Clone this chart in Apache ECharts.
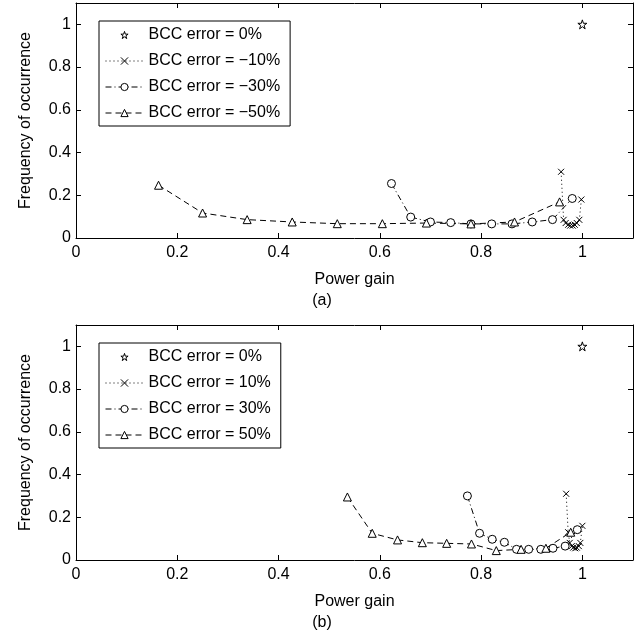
<!DOCTYPE html>
<html><head><meta charset="utf-8">
<script src="https://cdn.jsdelivr.net/npm/echarts@6/dist/echarts.min.js"></script>
<style>html,body{margin:0;padding:0;background:#fff}#c{width:644px;height:635px}</style>
</head><body><div id="c"></div>
<script>
// ---- data ----
const legendA = ['BCC error = 0%', 'BCC error = \u221210%', 'BCC error = \u221230%', 'BCC error = \u221250%'];
const legendB = ['BCC error = 0%', 'BCC error = 10%', 'BCC error = 30%', 'BCC error = 50%'];

const e0_a_x = [1.0];
const e0_a_y = [1.0];
const e10_a_x = [0.958, 0.963, 0.967, 0.972, 0.976, 0.981, 0.985, 0.989, 0.994, 0.998];
const e10_a_y = [0.31, 0.085, 0.07, 0.062, 0.058, 0.058, 0.062, 0.07, 0.085, 0.18];
const e30_a_x = [0.623, 0.661, 0.700, 0.740, 0.780, 0.821, 0.861, 0.901, 0.941, 0.980];
const e30_a_y = [0.255, 0.098, 0.075, 0.072, 0.066, 0.066, 0.066, 0.075, 0.086, 0.185];
const e50_a_x = [0.163, 0.250, 0.338, 0.427, 0.516, 0.605, 0.692, 0.780, 0.866, 0.955];
const e50_a_y = [0.247, 0.117, 0.086, 0.075, 0.067, 0.067, 0.070, 0.066, 0.075, 0.169];

const e0_b_x = [1.0];
const e0_b_y = [1.0];
const e10_b_x = [0.968, 0.972, 0.975, 0.979, 0.982, 0.986, 0.989, 0.993, 0.996, 1.0];
const e10_b_y = [0.31, 0.13, 0.08, 0.065, 0.058, 0.055, 0.058, 0.065, 0.08, 0.16];
const e30_b_x = [0.773, 0.797, 0.822, 0.846, 0.870, 0.894, 0.918, 0.942, 0.966, 0.990];
const e30_b_y = [0.30, 0.125, 0.097, 0.083, 0.05, 0.05, 0.05, 0.055, 0.065, 0.142];
const e50_b_x = [0.536, 0.585, 0.635, 0.684, 0.732, 0.781, 0.830, 0.879, 0.928, 0.977];
const e50_b_y = [0.295, 0.125, 0.094, 0.081, 0.078, 0.075, 0.044, 0.05, 0.055, 0.13];

const xName = 'Power gain';
const yName = 'Frequency of occurrence';
const panelLabels = ['(a)', '(b)'];

// ---- chart ----
const FONT = '"Liberation Sans", Arial, Helvetica, sans-serif';
const zip = (xs, ys) => xs.map((x, i) => [x, ys[i]]);
const STAR = 'path://M50,0L61.17,34.63L97.55,34.55L68.07,55.87L79.39,90.45L50,69L20.61,90.45L31.93,55.87L2.45,34.55L38.83,34.63Z';
const CROSS = 'path://M0,0L10,10M10,0L0,10';
const HOLLOW = {color: '#fff', borderColor: '#000', borderWidth: 1};

const grids = [
  {left: 76, top: 3, width: 557, height: 235},
  {left: 76, top: 325, width: 557, height: 235}
];

const xAxes = [], yAxes = [];
grids.forEach((g, gi) => {
  xAxes.push({
    type: 'value', gridIndex: gi, min: 0, max: 1.1, interval: 0.2, position: 'bottom',
    name: xName, nameLocation: 'middle', nameGap: 34,
    nameTextStyle: {fontFamily: FONT, fontSize: 16, color: '#000'},
    axisLine: {show: true, onZero: false, lineStyle: {color: '#000', width: 1}},
    axisTick: {show: true, inside: true, length: 5, lineStyle: {color: '#000'}},
    axisLabel: {fontFamily: FONT, fontSize: 16, color: '#000', margin: 7, showMaxLabel: false},
    splitLine: {show: false}
  });
  xAxes.push({
    type: 'value', gridIndex: gi, min: 0, max: 1.1, interval: 0.2, position: 'top',
    axisLine: {show: true, onZero: false, lineStyle: {color: '#000', width: 1}},
    axisTick: {show: true, inside: true, length: 5, lineStyle: {color: '#000'}},
    axisLabel: {show: false}, splitLine: {show: false}
  });
  yAxes.push({
    type: 'value', gridIndex: gi, min: 0, max: 1.1, interval: 0.2, position: 'left',
    name: yName, nameLocation: 'middle', nameGap: 42,
    nameTextStyle: {fontFamily: FONT, fontSize: 16, color: '#000'},
    axisLine: {show: true, onZero: false, lineStyle: {color: '#000', width: 1}},
    axisTick: {show: true, inside: true, length: 5, lineStyle: {color: '#000'}},
    axisLabel: {fontFamily: FONT, fontSize: 16, color: '#000', margin: 5, showMaxLabel: false},
    splitLine: {show: false}
  });
  yAxes.push({
    type: 'value', gridIndex: gi, min: 0, max: 1.1, interval: 0.2, position: 'right',
    axisLine: {show: true, onZero: false, lineStyle: {color: '#000', width: 1}},
    axisTick: {show: true, inside: true, length: 5, lineStyle: {color: '#000'}},
    axisLabel: {show: false}, splitLine: {show: false}
  });
});

function mkSeries(gi, names, sets) {
  const xi = gi * 2, yi = gi * 2;
  return [
    {name: names[0], type: 'line', xAxisIndex: xi, yAxisIndex: yi, data: zip(sets[0][0], sets[0][1]),
      symbol: STAR, symbolSize: 9, lineStyle: {width: 0, opacity: 0, color: '#000'},
      itemStyle: HOLLOW},
    {name: names[1], type: 'line', xAxisIndex: xi, yAxisIndex: yi, data: zip(sets[1][0], sets[1][1]),
      symbol: CROSS, symbolSize: 6, lineStyle: {width: 1, type: [1, 3], color: '#000'},
      itemStyle: {color: '#000', borderColor: '#000', borderWidth: 1}},
    {name: names[2], type: 'line', xAxisIndex: xi, yAxisIndex: yi, data: zip(sets[2][0], sets[2][1]),
      symbol: 'circle', symbolSize: 8, lineStyle: {width: 1, type: [6, 3, 1, 3], color: '#000'},
      itemStyle: HOLLOW},
    {name: names[3], type: 'line', xAxisIndex: xi, yAxisIndex: yi, data: zip(sets[3][0], sets[3][1]),
      symbol: 'triangle', symbolSize: 8, lineStyle: {width: 1, type: [6, 4], color: '#000'},
      itemStyle: HOLLOW}
  ].map(s => Object.assign(s, {showAllSymbol: true, animation: false, z: 3}));
}

const series = [].concat(
  mkSeries(0, legendA, [[e0_a_x, e0_a_y], [e10_a_x, e10_a_y], [e30_a_x, e30_a_y], [e50_a_x, e50_a_y]]),
  mkSeries(1, legendB, [[e0_b_x, e0_b_y], [e10_b_x, e10_b_y], [e30_b_x, e30_b_y], [e50_b_x, e50_b_y]])
);

function mkLegend(names, top) {
  return {
    data: names.map((n, i) => ({
      name: n,
      itemStyle: i === 1 ? {color: '#000', borderColor: '#000', borderWidth: 1} : HOLLOW
    })),
    orient: 'vertical', left: 99, top: top,
    backgroundColor: '#fff', borderColor: '#000', borderWidth: 1,
    padding: [6, 10, 5, 6], itemGap: 10, itemWidth: 38, itemHeight: 9,
    itemStyle: {borderWidth: 1},
    lineStyle: {width: 1},
    textStyle: {fontFamily: FONT, fontSize: 16, color: '#000'},
    selectedMode: false
  };
}

const chart = echarts.init(document.getElementById('c'), null, {renderer: 'canvas'});
chart.setOption({
  animation: false,
  backgroundColor: '#fff',
  grid: grids,
  xAxis: xAxes,
  yAxis: yAxes,
  legend: [mkLegend(legendA, 21), mkLegend(legendB, 343)],
  series: series,
  graphic: [
    {type: 'text', left: 'center', top: 293, style: {text: panelLabels[0], font: '16px ' + FONT, fill: '#000'}},
    {type: 'text', left: 'center', top: 615, style: {text: panelLabels[1], font: '16px ' + FONT, fill: '#000'}}
  ]
});
</script></body></html>
